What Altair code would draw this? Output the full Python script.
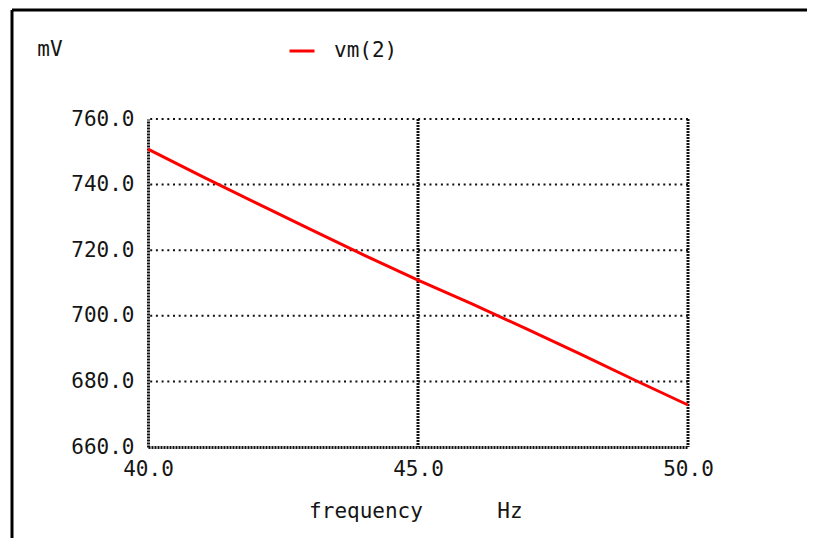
import altair as alt
import pandas as pd

# ---- data ----
freq_hz = [40, 41, 42, 43, 44, 45, 46, 47, 48, 49, 50]
vm_mv = [750.8, 742.5, 734.4, 726.4, 718.5, 710.9, 703.6, 696.1, 688.4, 680.5, 672.8]
series_name = ["vm(2)"]
y_ticks = [660, 680, 700, 720, 740, 760]
x_ticks = [40, 45, 50]
unit_label = ["mV"]
x_title = ["frequency"]
x_unit = ["Hz"]

FONT = "DejaVu Sans Mono"
FS = 21
TXT = "#151515"
W, H = 540, 328

line_df = pd.DataFrame({"freq": freq_hz, "mv": vm_mv, "series": series_name * len(freq_hz)})
ydf = pd.DataFrame({"mv": y_ticks})
xdf = pd.DataFrame({"freq": x_ticks})

xscale = alt.Scale(domain=[40, 50], nice=False, zero=False)
yscale = alt.Scale(domain=[660, 760], nice=False, zero=False)

dense = [2, 1]

x_axis = alt.Axis(values=x_ticks, format=".1f", title=None, grid=False, ticks=False,
                  labelFont=FONT, labelFontSize=FS, labelColor=TXT, labelPadding=11,
                  labelFlush=False,
                  domain=True, domainColor="#111", domainWidth=3, domainDash=dense)
y_axis = alt.Axis(values=y_ticks, format=".1f", title=None, grid=False, ticks=False,
                  labelFont=FONT, labelFontSize=FS, labelColor=TXT, labelPadding=14,
                  labelFlush=False,
                  domain=True, domainColor="#111", domainWidth=3, domainDash=dense)

# horizontal sparse dotted grid
hgrid = alt.Chart(ydf).transform_filter(alt.datum.mv > 660).mark_rule(
    color="#111", strokeWidth=2, strokeDash=[2, 3.7]
).encode(y=alt.Y("mv:Q", scale=yscale, axis=y_axis))

# vertical dense dotted lines
vgrid = alt.Chart(xdf).transform_filter(alt.datum.freq > 40).mark_rule(
    color="#111", strokeWidth=3, strokeDash=dense
).encode(x=alt.X("freq:Q", scale=xscale, axis=x_axis))

line = alt.Chart(line_df).mark_line(strokeWidth=3).encode(
    x=alt.X("freq:Q", scale=xscale, axis=x_axis),
    y=alt.Y("mv:Q", scale=yscale, axis=y_axis),
    color=alt.Color("series:N", scale=alt.Scale(domain=series_name, range=["#ff0000"]),
                    legend=alt.Legend(orient="none", legendX=140, legendY=-82, title=None,
                                      symbolType="stroke", symbolSize=625, symbolStrokeWidth=3,
                                      labelFont=FONT, labelFontSize=FS, labelColor=TXT,
                                      labelOffset=18, padding=0)),
)

unit = alt.Chart(pd.DataFrame({"t": unit_label})).mark_text(
    font=FONT, fontSize=FS, color=TXT, align="center", baseline="middle"
).encode(text="t:N", x=alt.value(-98), y=alt.value(-69))

xt = alt.Chart(pd.DataFrame({"t": x_title})).mark_text(
    font=FONT, fontSize=FS, color=TXT, align="center", baseline="middle"
).encode(text="t:N", x=alt.value(218), y=alt.value(393))

xu = alt.Chart(pd.DataFrame({"t": x_unit})).mark_text(
    font=FONT, fontSize=FS, color=TXT, align="center", baseline="middle"
).encode(text="t:N", x=alt.value(362), y=alt.value(393))

frame_top = alt.Chart(pd.DataFrame({"k": [0]})).mark_rule(color="#000", strokeWidth=3).encode(
    x=alt.value(-136), x2=alt.value(659), y=alt.value(-109))
frame_left = alt.Chart(pd.DataFrame({"k": [0]})).mark_rule(color="#000", strokeWidth=3).encode(
    x=alt.value(-136), y=alt.value(-109), y2=alt.value(419))

chart = alt.layer(frame_top, frame_left, hgrid, vgrid, line, unit, xt, xu).properties(
    width=W, height=H,
    padding={"left": 140, "top": 111, "right": 119, "bottom": 91},
    autosize=alt.AutoSizeParams(type="none"),
    background="white",
).configure_view(strokeWidth=0)

chart.save("out.html", embed_options={"renderer": "svg", "actions": False})
